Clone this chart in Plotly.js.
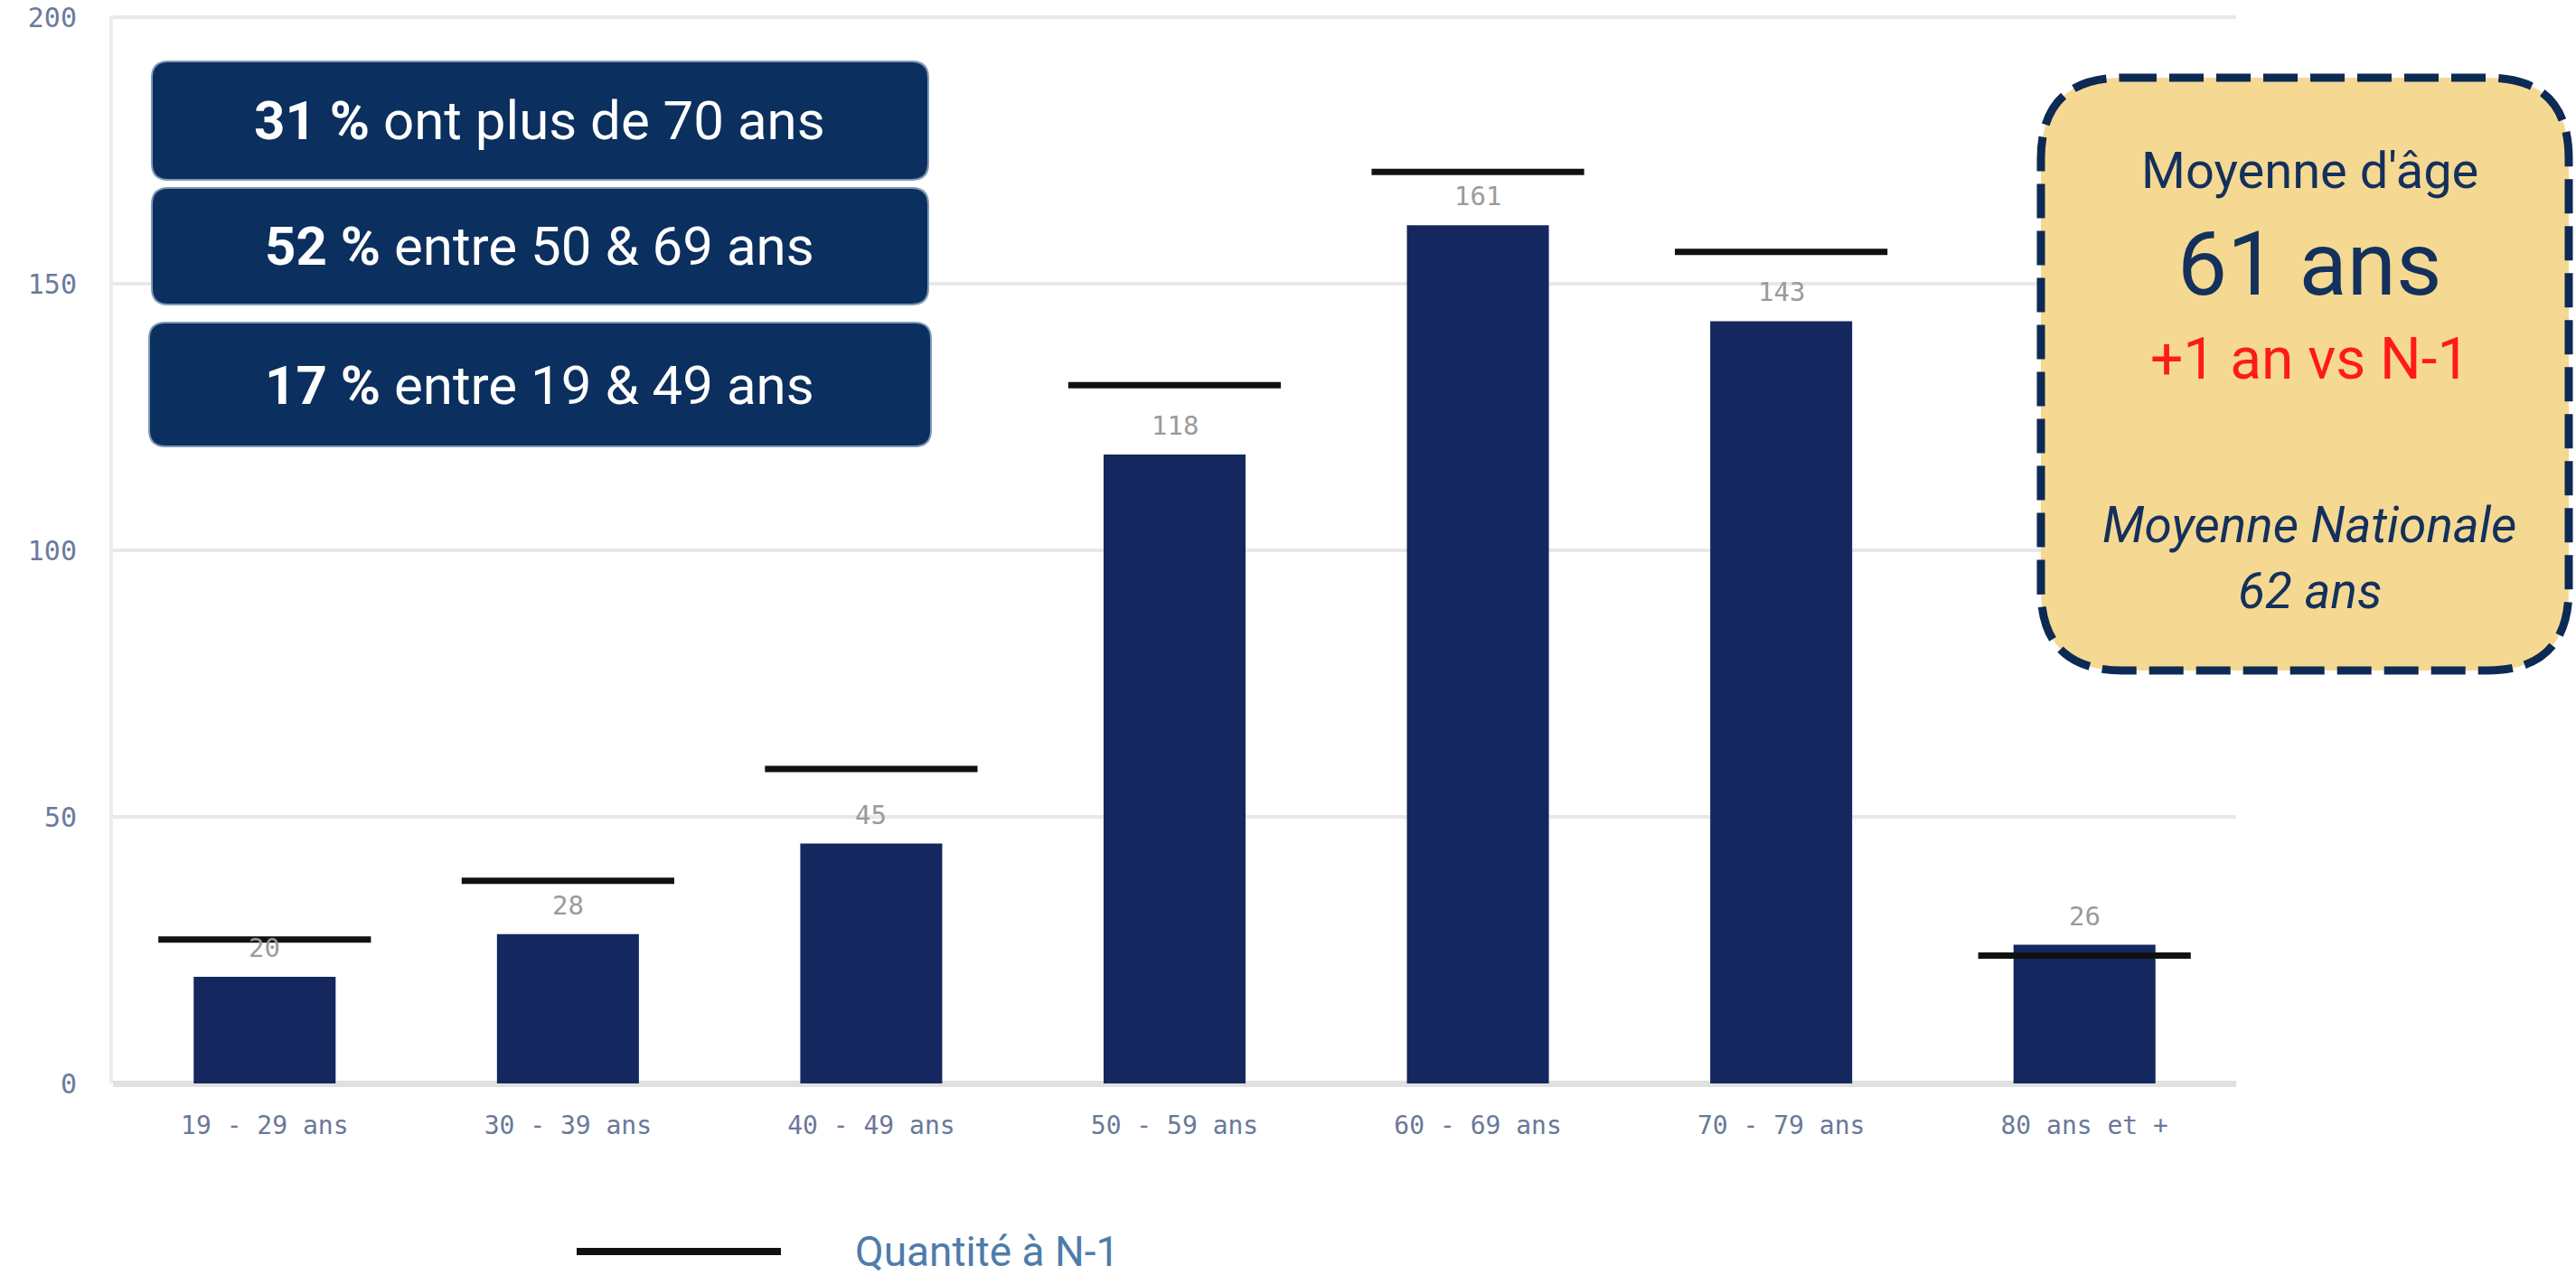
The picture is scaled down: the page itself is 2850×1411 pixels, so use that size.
<!DOCTYPE html>
<html>
<head>
<meta charset="utf-8">
<script src="https://cdn.plot.ly/plotly-3.0.1.min.js"></script>
<style>
  html, body { margin: 0; padding: 0; background: #ffffff; }
  #chart { width: 2850px; height: 1411px; }
</style>
</head>
<body>
<div id="chart"></div>
<script>
// ---- Data ----
const categories = ['19 - 29 ans', '30 - 39 ans', '40 - 49 ans', '50 - 59 ans', '60 - 69 ans', '70 - 79 ans', '80 ans et +'];
const quantite = [20, 28, 45, 118, 161, 143, 26];
const quantiteN1 = [27, 38, 59, 131, 171, 156, 24];
const yTicks = [0, 50, 100, 150, 200];
const legendLabel = 'Quantité à N-1';
const leftBoxTexts = [
  ['31 %', ' ont plus de 70 ans'],
  ['52 %', ' entre 50 & 69 ans'],
  ['17 %', ' entre 19 & 49 ans']
];
const rightBoxLines = ["Moyenne d'âge", '61 ans', '+1 an vs N-1', 'Moyenne Nationale', '62 ans'];

// ---- Geometry helpers (pixel -> paper) ----
const W = 2850, H = 1411;
const M = { l: 125, r: 376, t: 18, b: 212 };
const PW = W - M.l - M.r, PH = H - M.t - M.b;
const px = v => (v - M.l) / PW;
const py = v => 1 - (v - M.t) / PH;

function roundRect(x0, y0, x1, y1, r) {
  const P = (x, y) => px(x).toFixed(5) + ',' + py(y).toFixed(5);
  return 'M' + P(x0 + r, y0) +
    ' L' + P(x1 - r, y0) + ' Q' + P(x1, y0) + ' ' + P(x1, y0 + r) +
    ' L' + P(x1, y1 - r) + ' Q' + P(x1, y1) + ' ' + P(x1 - r, y1) +
    ' L' + P(x0 + r, y1) + ' Q' + P(x0, y1) + ' ' + P(x0, y1 - r) +
    ' L' + P(x0, y0 + r) + ' Q' + P(x0, y0) + ' ' + P(x0 + r, y0) + ' Z';
}

const navy = '#15275f';
const mono = 'DejaVu Sans Mono, monospace';

// ---- Traces ----
const bars = {
  type: 'bar',
  x: categories,
  y: quantite,
  marker: { color: navy, line: { width: 0 } },
  hoverinfo: 'skip',
  showlegend: false
};

const prevLines = {
  type: 'scatter',
  mode: 'markers',
  x: categories,
  y: quantiteN1,
  marker: {
    symbol: 'line-ew',
    size: 168,
    color: '#111111',
    line: { color: '#111111', width: 7 }
  },
  hoverinfo: 'skip',
  showlegend: false,
  cliponaxis: false
};

// ---- Shapes ----
const shapes = [];
const leftBoxes = [[168, 68, 1027, 199], [168, 208, 1027, 337], [165, 357, 1030, 494]];
leftBoxes.forEach(b => {
  shapes.push({
    type: 'path', xref: 'paper', yref: 'paper',
    path: roundRect(b[0], b[1], b[2], b[3], 18),
    fillcolor: '#0b2f5e', line: { color: '#7f99b8', width: 2 }, layer: 'above'
  });
});
// right info box
shapes.push({
  type: 'path', xref: 'paper', yref: 'paper',
  path: roundRect(2258, 86, 2842, 742, 90),
  fillcolor: '#f5d992',
  line: { color: '#0d2a55', width: 9, dash: '38px,14px' },
  layer: 'above'
});
// legend line
shapes.push({
  type: 'line', xref: 'paper', yref: 'paper',
  x0: px(638), x1: px(864), y0: py(1385), y1: py(1385),
  line: { color: '#111111', width: 8 }
});

// ---- Annotations ----
const annotations = [];
// value labels above bars
categories.forEach((c, i) => {
  annotations.push({
    x: c, y: quantite[i], xref: 'x', yref: 'y',
    text: String(quantite[i]),
    showarrow: false, yanchor: 'middle', yshift: 32,
    font: { family: mono, size: 29, color: '#9a9a9a' }
  });
});
// left box texts
const leftCenters = [134, 272, 426];
leftBoxTexts.forEach((t, i) => {
  annotations.push({
    xref: 'paper', yref: 'paper', x: px(597), y: py(leftCenters[i]),
    xanchor: 'center', yanchor: 'middle', showarrow: false,
    text: '<b>' + t[0] + '</b>' + t[1],
    font: { family: 'Roboto, sans-serif', size: 60, color: '#ffffff' }
  });
});
// right box texts
const rb = [
  { y: 189, size: 56, color: '#14305c', t: rightBoxLines[0] },
  { y: 292, size: 98, color: '#14305c', t: rightBoxLines[1] },
  { y: 397, size: 64, color: '#ff1a1a', t: rightBoxLines[2] },
  { y: 581, size: 55, color: '#14305c', t: '<i>' + rightBoxLines[3] + '</i>' },
  { y: 654, size: 55, color: '#14305c', t: '<i>' + rightBoxLines[4] + '</i>' }
];
rb.forEach(r => {
  annotations.push({
    xref: 'paper', yref: 'paper', x: px(2555), y: py(r.y),
    xanchor: 'center', yanchor: 'middle', showarrow: false,
    text: r.t,
    font: { family: 'Roboto, sans-serif', size: r.size, color: r.color }
  });
});
// legend text
annotations.push({
  xref: 'paper', yref: 'paper', x: px(944), y: py(1385),
  xanchor: 'left', yanchor: 'middle', showarrow: false,
  text: legendLabel,
  font: { family: 'Roboto, sans-serif', size: 46, color: '#4e7cab' }
});

// ---- Layout ----
const layout = {
  width: W, height: H,
  margin: M,
  paper_bgcolor: '#ffffff',
  plot_bgcolor: '#ffffff',
  bargap: 0.532,
  showlegend: false,
  xaxis: {
    type: 'category',
    range: [-0.5, categories.length - 0.5],
    showgrid: false, showline: false, zeroline: false,
    ticks: '',
    ticklabelstandoff: 27,
    tickfont: { family: mono, size: 28, color: '#6a7899' },
    fixedrange: true
  },
  yaxis: {
    range: [0, 200.2],
    tickvals: yTicks,
    ticktext: yTicks.map(String),
    showgrid: true, gridcolor: '#e8e8e8', gridwidth: 4,
    zeroline: true, zerolinecolor: '#e0e0e0', zerolinewidth: 7,
    showline: true, linecolor: '#ececec', linewidth: 4,
    ticks: '',
    ticklabelstandoff: 30,
    ticklabeloverflow: 'allow',
    tickfont: { family: mono, size: 30, color: '#6c7a9c' },
    fixedrange: true
  },
  shapes: shapes,
  annotations: annotations
};

Plotly.newPlot('chart', [bars, prevLines], layout, { staticPlot: true, displayModeBar: false });
</script>
</body>
</html>
